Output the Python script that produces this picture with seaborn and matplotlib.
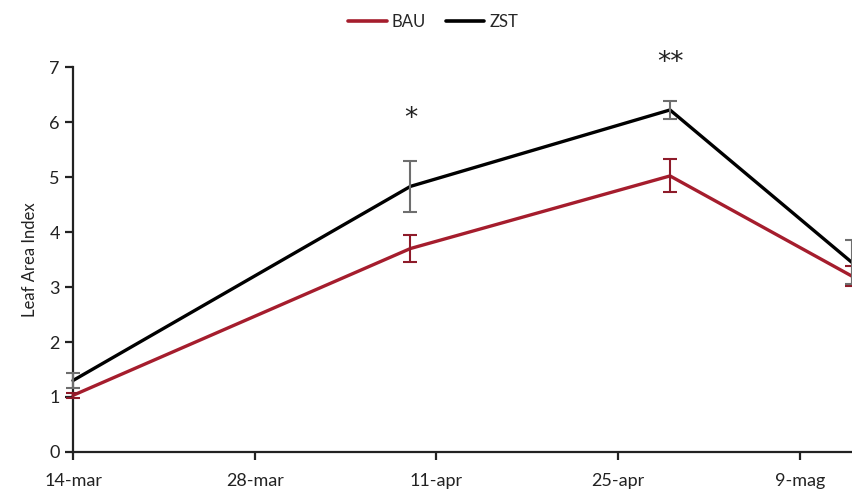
import matplotlib
matplotlib.use("Agg")
import matplotlib.pyplot as plt
import seaborn as sns
import pandas as pd
import numpy as np

# data
dates = ["2019-03-14", "2019-04-09", "2019-04-29", "2019-05-13"]
bau = [1.03, 3.70, 5.02, 3.20]
bau_err = [0.05, 0.24, 0.30, 0.18]
zst = [1.30, 4.83, 6.22, 3.45]
zst_err = [0.14, 0.46, 0.16, 0.40]
tick_dates = ["2019-03-14", "2019-03-28", "2019-04-11", "2019-04-25", "2019-05-09"]
tick_labels = ["14-mar", "28-mar", "11-apr", "25-apr", "9-mag"]
stars = ["", "*", "**", ""]
star_y = [None, 6.05, 7.08, None]

sns.set_theme(style="white")
plt.rcParams["font.family"] = ["Lato", "DejaVu Sans"]

start = pd.Timestamp(dates[0])
days = [(pd.Timestamp(d) - start).days for d in dates]
tdays = [(pd.Timestamp(d) - start).days for d in tick_dates]

df = pd.DataFrame({
    "day": days * 2,
    "lai": bau + zst,
    "Series": ["BAU"] * len(days) + ["ZST"] * len(days),
})

red = "#A51D2D"
fig = plt.figure(figsize=(8.53, 4.93), dpi=100)
ax = fig.add_axes([0.0856, 0.0832, 1.0 - 0.0856, 0.864 - 0.0832])

sns.lineplot(data=df, x="day", y="lai", hue="Series", palette={"BAU": red, "ZST": "black"},
             linewidth=2.4, ax=ax, legend=False, clip_on=False)
ax.errorbar(days, bau, yerr=bau_err, fmt="none", ecolor="#8E1B2A", elinewidth=1.5,
            capsize=5, capthick=1.5, clip_on=False, zorder=3)
ax.errorbar(days, zst, yerr=zst_err, fmt="none", ecolor="#6E6E6E", elinewidth=1.5,
            capsize=5, capthick=1.5, clip_on=False, zorder=3)

for d, s, yv in zip(days, stars, star_y):
    if s:
        ax.text(d, yv, s, ha="center", va="center", fontsize=19, color="#222222",
                family="DejaVu Sans", clip_on=False)

ax.set_xlim(0, 60.1)
ax.set_ylim(0, 7)
ax.set_xticks(tdays)
ax.set_xticklabels(tick_labels)
ax.set_yticks(range(0, 8))
ax.set_xlabel("")
ax.set_ylabel("Leaf Area Index", fontsize=12, color="#222222", labelpad=8)
for side in ["top", "right"]:
    ax.spines[side].set_visible(False)
for side in ["left", "bottom"]:
    ax.spines[side].set_color("#222222")
    ax.spines[side].set_linewidth(1.6)
ax.tick_params(axis="both", direction="out", length=6, width=1.6, color="#222222",
               labelsize=13, labelcolor="#222222", bottom=True, left=True)
ax.tick_params(axis="x", pad=9)

from matplotlib.lines import Line2D
handles = [Line2D([], [], color=red, lw=2.6), Line2D([], [], color="black", lw=2.6)]
fig.legend(handles, ["BAU", "ZST"], loc="center", bbox_to_anchor=(0.508, 0.955), ncol=2,
           frameon=False, fontsize=12, handlelength=2.3, handletextpad=0.3, columnspacing=1.2)

fig.savefig("out.png", dpi=100)
